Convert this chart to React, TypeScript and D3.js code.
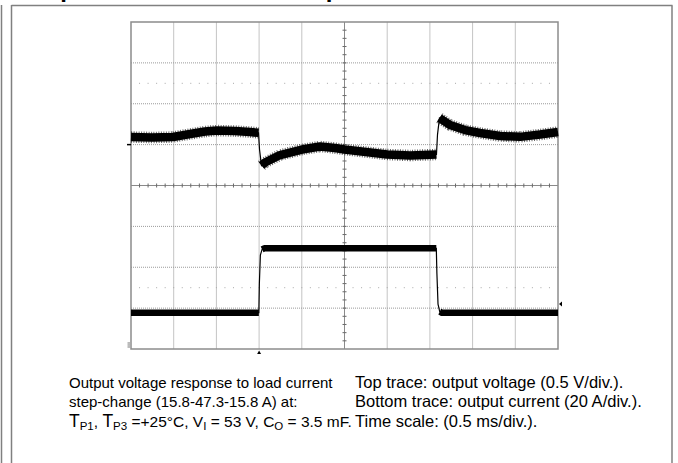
import React from "react";
import * as d3 from "d3";

// ---- data ----
// top trace: output voltage deviation (V) vs time (ms), 0.5 V/div, 0.5 ms/div
const voltTime = [0, 0.246, 0.492, 0.691, 0.867, 1.007, 1.218, 1.393, 1.493, 1.505, 1.528, 1.569, 1.745, 2.002, 2.213, 2.389, 2.5, 2.8, 3.0, 3.27, 3.577, 3.589, 3.612, 3.735, 3.911, 4.087, 4.321, 4.555, 4.789, 5.0];
const voltValue = [0.093, 0.087, 0.093, 0.13, 0.16, 0.172, 0.166, 0.154, 0.144, -0.06, -0.255, -0.219, -0.127, -0.06, -0.023, -0.042, -0.06, -0.097, -0.121, -0.133, -0.121, 0.123, 0.325, 0.24, 0.178, 0.142, 0.105, 0.095, 0.123, 0.154];
// bottom trace: output current (A) vs time (ms), 20 A/div
const currTime = [0, 1.497, 1.503, 1.515, 1.535, 1.56, 3.575, 3.582, 3.595, 3.615, 3.64, 5.0];
const currValue = [15.8, 15.8, 30, 44, 46.8, 47.3, 47.3, 35, 20, 16.3, 15.8, 15.8];
const triggerTime = 1.5;
const triggerLevel = 20;

const captionLeft = [
  "Output voltage response to load current",
  "step-change (15.8-47.3-15.8 A) at:",
];
const captionRight = [
  "Top trace: output voltage (0.5 V/div.).",
  "Bottom trace: output current (20 A/div.).",
  "Time scale: (0.5 ms/div.).",
];
const headingText = "Output Load Transient Response";

const W = 678, H = 463;
const PX0 = 131, PX1 = 558, PY0 = 22, PY1 = 349;

const xT = d3.scaleLinear().domain([0, 5]).range([PX0, PX1]);
const yDiv = d3.scaleLinear().domain([-4, 4]).range([PY1, PY0]);
const yV = d3.scaleLinear().domain([-2.5, 1.5]).range([PY1, PY0]);
const yI = d3.scaleLinear().domain([-1.96, 158.04]).range([PY1, PY0]);

type P = [number, number];

function thickRuns(pts: P[]): P[][] {
  const runs: P[][] = [];
  let cur: P[] = [];
  for (let i = 0; i < pts.length - 1; i++) {
    const a = pts[i], b = pts[i + 1];
    const steep = Math.abs(b[1] - a[1]) > 3 * Math.abs(b[0] - a[0]);
    if (!steep) {
      if (cur.length === 0) cur.push(a);
      cur.push(b);
    } else if (cur.length) {
      runs.push(cur);
      cur = [];
    }
  }
  if (cur.length) runs.push(cur);
  return runs;
}

export default function App() {
  const line = d3.line<P>().x((d) => d[0]).y((d) => d[1]);
  const vPts: P[] = voltTime.map((t, i) => [xT(t), yV(voltValue[i])]);
  const iPts: P[] = currTime.map((t, i) => [xT(t), yI(currValue[i])]);
  const vRuns = thickRuns(vPts);
  const iRuns = thickRuns(iPts);

  const xDivs = d3.range(0, 5.0001, 0.5);
  const yDivs = d3.range(-4, 4.0001, 1);
  const xMinor = d3.range(0, 5.0001, 0.1);
  const yMinor = d3.range(-4, 4.0001, 0.2);
  const xc = xT(2.5), yc = yDiv(0);

  const font = "'Liberation Sans', Arial, sans-serif";

  return (
    <svg width={W} height={H} style={{ position: "absolute", left: 0, top: 0, background: "#fff" }}>
      {/* cut-off heading (only descenders visible, as in the reference) */}
      <text x={19} y={-3} fontFamily={font} fontWeight="bold" fontSize={24} fill="#000">{headingText}</text>
      {/* page frame */}
      <g stroke="#808080" strokeWidth={1.5} fill="none">
        <line x1={1.5} y1={5} x2={1.5} y2={H} />
        <line x1={11.5} y1={5} x2={11.5} y2={H} />
        <line x1={11.5} y1={5.5} x2={672.5} y2={5.5} />
        <line x1={672} y1={5.5} x2={672} y2={H} />
      </g>

      {/* grid */}
      <g>
        {xDivs.slice(1, -1).map((d) => (
          <line key={"gx" + d} x1={xT(d)} x2={xT(d)} y1={PY0} y2={PY1} stroke="#c4c4c4" strokeWidth={1} />
        ))}
        {yDivs.slice(1, -1).map((d) => (
          <line key={"gy" + d} x1={PX0} x2={PX1} y1={yDiv(d)} y2={yDiv(d)} stroke="#9a9a9a" strokeWidth={1} strokeDasharray="1 1" />
        ))}
        {[-2.5, 2.5].map((d) =>
          xMinor.slice(1, -1).map((m) => (
            <rect key={"dot" + d + m} x={xT(m) - 0.5} y={yDiv(d) - 0.5} width={1} height={1} fill="#a8a8a8" />
          ))
        )}
        {/* center axes with minor ticks */}
        <line x1={PX0} x2={PX1} y1={yc} y2={yc} stroke="#8a8a8a" strokeWidth={1} />
        <line x1={xc} x2={xc} y1={PY0} y2={PY1} stroke="#8a8a8a" strokeWidth={1} />
        {xMinor.slice(1, -1).map((m) => (
          <line key={"tx" + m} x1={xT(m)} x2={xT(m)} y1={yc - 2} y2={yc + 2} stroke="#6a6a6a" strokeWidth={1} />
        ))}
        {yMinor.slice(1, -1).map((m) => (
          <line key={"ty" + m} x1={xc - 2} x2={xc + 2} y1={yDiv(m)} y2={yDiv(m)} stroke="#6a6a6a" strokeWidth={1} />
        ))}
        <rect x={PX0} y={PY0} width={PX1 - PX0} height={PY1 - PY0} fill="none" stroke="#8c8c8c" strokeWidth={1.5} />
      </g>

      {/* traces */}
      <g fill="none" stroke="#000">
        {vRuns.map((r, i) => (
          <g key={"v" + i}>
            <path d={line(r) || ""} strokeWidth={8.5} strokeLinejoin="round" />
            <path d={line(r) || ""} strokeWidth={11.5} strokeDasharray="1 1.5" strokeOpacity={0.6} />
          </g>
        ))}
        <path d={line(vPts) || ""} strokeWidth={1.2} />
        {iRuns.map((r, i) => (
          <path key={"i" + i} d={line(r) || ""} strokeWidth={6.5} strokeLinejoin="round" />
        ))}
        <path d={line(iPts) || ""} strokeWidth={1.2} />
      </g>

      {/* channel / trigger markers */}
      <line x1={127} x2={131} y1={yV(0)} y2={yV(0)} stroke="#000" strokeWidth={1.5} />
      <g stroke="#555" strokeWidth={0.8}>
        <line x1={127.5} x2={130} y1={yI(0) - 2} y2={yI(0) - 2} />
        <line x1={127.5} x2={130} y1={yI(0)} y2={yI(0)} />
        <line x1={127.5} x2={130} y1={yI(0) + 2} y2={yI(0) + 2} />
      </g>
      <path d={`M${PX1 + 1},${yI(triggerLevel)} L${PX1 + 4},${yI(triggerLevel) - 2.5} L${PX1 + 4},${yI(triggerLevel) + 2.5} Z`} fill="#000" />
      <path d={`M${xT(triggerTime)},${PY1 + 1.5} L${xT(triggerTime) - 2},${PY1 + 5} L${xT(triggerTime) + 2},${PY1 + 5} Z`} fill="#000" />

      {/* caption */}
      <g fontFamily={font} fill="#000">
        <text x={69} y={388} fontSize={15}>{captionLeft[0]}</text>
        <text x={69} y={407} fontSize={15}>{captionLeft[1]}</text>
        <text x={69} y={427} fontSize={15.5}>
          <tspan fontSize={17.5}>T</tspan>
          <tspan fontSize={11.5} dy={3}>P1</tspan>
          <tspan dy={-3}>, </tspan>
          <tspan fontSize={17.5}>T</tspan>
          <tspan fontSize={11.5} dy={3}>P3</tspan>
          <tspan dy={-3}> =+25°C, V</tspan>
          <tspan fontSize={11.5} dy={3}>I</tspan>
          <tspan dy={-3}> = 53 V, C</tspan>
          <tspan fontSize={11.5} dy={3}>O</tspan>
          <tspan dy={-3}> = 3.5 mF.</tspan>
        </text>
        <text x={355} y={388} fontSize={16.5}>{captionRight[0]}</text>
        <text x={355} y={407} fontSize={16.5}>{captionRight[1]}</text>
        <text x={355} y={427} fontSize={16.5}>{captionRight[2]}</text>
      </g>
    </svg>
  );
}
